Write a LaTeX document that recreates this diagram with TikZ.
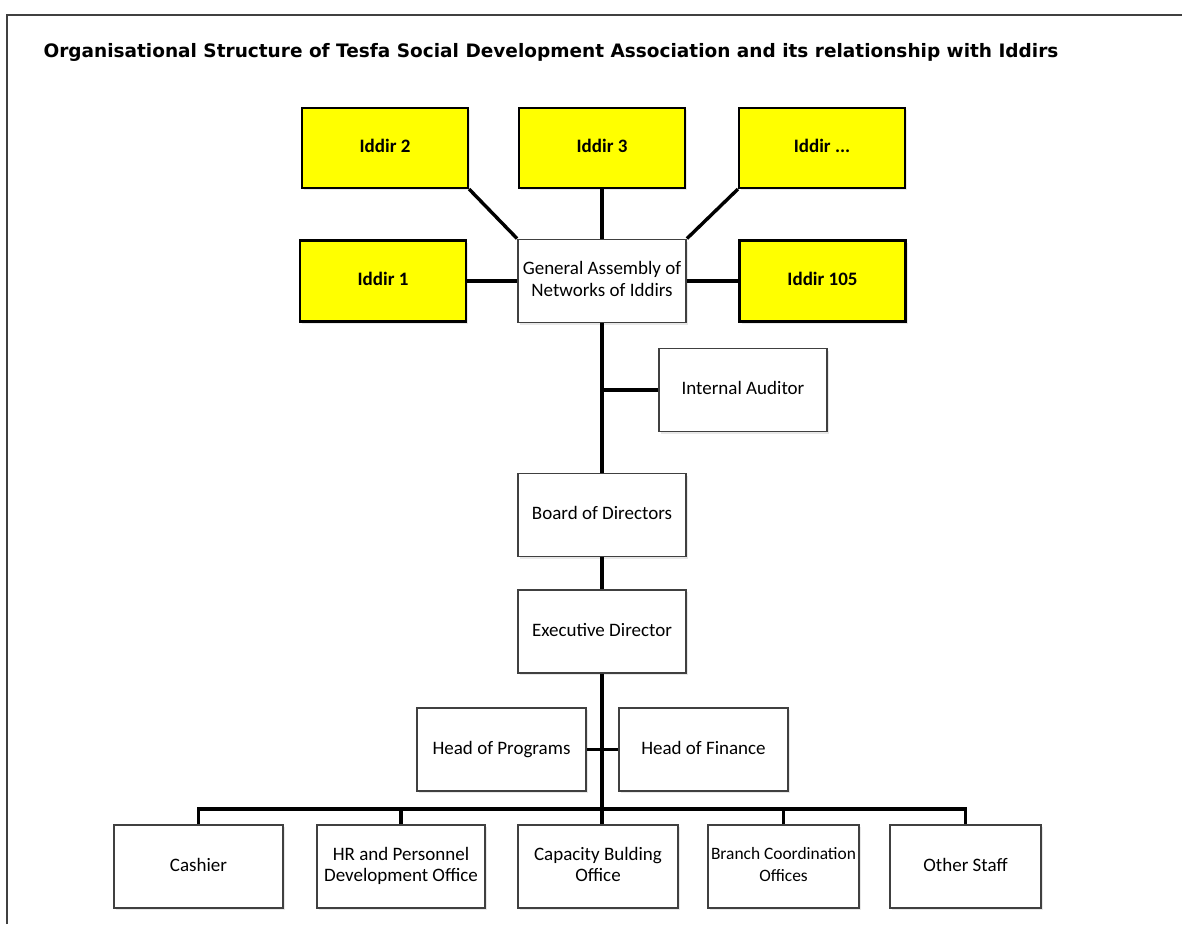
\documentclass[tikz,border=0pt]{standalone}
\usepackage{fontspec}
\setmainfont{Carlito}
\newfontfamily\titlefont{DejaVu Sans}
\usetikzlibrary{positioning,shadows}
\definecolor{iddiryellow}{RGB}{255,255,0}
\definecolor{boxgray}{RGB}{64,64,64}

\begin{document}
\begin{tikzpicture}[x=1pt,y=-1pt,on grid,
  font=\fontsize{19}{21.5}\selectfont,
  unit/.style={rectangle,draw=boxgray,line width=1.8pt,fill=white,align=center,
    minimum width=168pt,minimum height=83pt,inner sep=0pt,text depth=4pt,
    drop shadow={opacity=0.18,shadow xshift=2pt,shadow yshift=-2pt}},
  iddir/.style={unit,draw=black,line width=2.2pt,fill=iddiryellow,
    font=\fontsize{19}{21.5}\selectfont\bfseries,minimum width=166pt,minimum height=81pt},
  link/.style={line width=3.4pt,black}
]
\useasboundingbox (0,0) rectangle (1182,924);
\draw[boxgray,line width=1.5pt] (7,924) -- (7,15) -- (1182,15);
\node[anchor=west,font=\titlefont\fontsize{18.5}{22}\selectfont\bfseries] (title) at (40,52)
  {Organisational Structure of Tesfa Social Development Association and its relationship with Iddirs};

% general assembly and the iddirs
\node[unit] (GA) at (602,281) {General Assembly of\\Networks of Iddirs};
\node[iddir] (I1) [left=219pt of GA] {Iddir 1};
\node[iddir] (I105) [right=220.5pt of GA] {Iddir 105};
\node[iddir,minimum height=80pt] (I3) [above=133pt of GA] {Iddir 3};
\node[iddir,minimum height=80pt] (I2) [left=217pt of I3] {Iddir 2};
\node[iddir,minimum height=80pt] (In) [right=220pt of I3] {Iddir ...};

% management
\node[unit] (IA) [below right=109pt and 141pt of GA] {Internal Auditor};
\node[unit] (BD) [below=234pt of GA] {Board of Directors};
\node[unit] (ED) [below=116.5pt of BD] {Executive Director};
\node[unit,minimum width=169pt] (HP) [below left=118pt and 100.5pt of ED] {Head of Programs};
\node[unit,minimum width=169pt] (HF) [below right=118pt and 101.5pt of ED] {Head of Finance};

% offices
\node[unit,minimum width=169pt] (CA) at (198.5,866.5) {Cashier};
\node[unit] (HR) [right=202.5pt of CA] {HR and Personnel\\Development Office};
\node[unit,minimum width=160pt] (CB) [right=197pt of HR] {Capacity Bulding\\Office};
\node[unit,minimum width=151pt,font=\fontsize{17.4}{21.5}\selectfont] (BC) [right=185.5pt of CB] {Branch Coordination\\Offices};
\node[unit,minimum width=151pt] (OS) [right=182pt of BC] {Other Staff};

\draw[link] (I1) -- (GA);
\draw[link] (GA) -- (I105);
\draw[link] (I3) -- (GA);
\draw[link] (I2.south east) -- (GA.north west);
\draw[link] (In.south west) -- (GA.north east);
\draw[link] (GA) -- (BD);
\draw[link] (GA.south |- IA) -- (IA);
\draw[link] (BD) -- (ED);
\draw[link] (ED.south) -- (ED.south |- CB.north);
\draw[link] (HP) -- (HF);
\coordinate (bar) at ([yshift=15pt]CA.north);
\draw[link] (CA.north) -- (bar) -| (OS.north);
\foreach \n in {HR,BC}
  \draw[link] (\n.north) -- (\n.north |- bar);
\end{tikzpicture}
\end{document}
